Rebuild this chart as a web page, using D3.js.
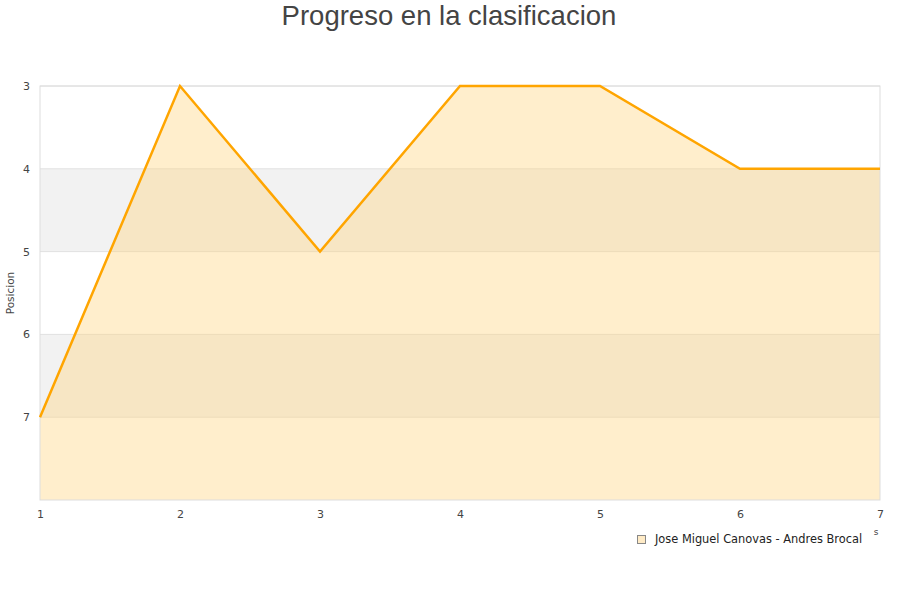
<!DOCTYPE html>
<meta charset="utf-8">
<html>
<head>
<script src="https://d3js.org/d3.v7.min.js"></script>
<style>
  body { margin: 0; background: #fff; }
  text { font-family: "DejaVu Sans", sans-serif; }
</style>
</head>
<body>
<div id="chart"></div>
<script>
  // data
  const rounds = [1, 2, 3, 4, 5, 6, 7];
  const positions = [7, 3, 5, 3, 3, 4, 4];
  const yTicks = [3, 4, 5, 6, 7];
  const seriesName = "Jose Miguel Canovas - Andres Brocal";

  var margin = {top: 86, right: 20, bottom: 100, left: 40},
      width = 900 - margin.left - margin.right,
      height = 600 - margin.top - margin.bottom;

  const svg = d3.select("#chart")
    .append("svg")
      .attr("width", 900)
      .attr("height", 600);

  svg.append("text")
    .attr("x", 449)
    .attr("y", 25)
    .attr("text-anchor", "middle")
    .style("font-family", "'Liberation Sans', Arial, sans-serif")
    .style("font-size", "27.5px")
    .style("fill", "#444")
    .text("Progreso en la clasificacion");

  const g = svg.append("g")
    .attr("transform", `translate(${margin.left},${margin.top})`);

  const x = d3.scaleLinear().domain([1, 7]).range([0, width]);
  const y = d3.scaleLinear().domain([3, 8]).range([0, height]);

  // alternating bands
  g.selectAll("rect.band")
    .data([3, 4, 5, 6, 7])
    .join("rect")
      .attr("class", "band")
      .attr("x", 0)
      .attr("y", d => y(d))
      .attr("width", width)
      .attr("height", d => y(d + 1) - y(d))
      .attr("fill", (d, i) => i % 2 ? "#f2f2f2" : "#fff");

  // grid lines
  g.selectAll("line.grid")
    .data(yTicks)
    .join("line")
      .attr("class", "grid")
      .attr("x1", 0)
      .attr("x2", width)
      .attr("y1", d => y(d))
      .attr("y2", d => y(d))
      .attr("stroke", "#e0e0e0");

  const pts = rounds.map((r, i) => ({r: r, p: positions[i]}));

  const area = d3.area()
    .x(d => x(d.r))
    .y0(y(8))
    .y1(d => y(d.p));

  g.append("path")
    .datum(pts)
    .attr("d", area)
    .attr("fill", "#ffd580")
    .attr("fill-opacity", 0.4);

  // plot border
  g.append("rect")
    .attr("width", width)
    .attr("height", height)
    .attr("fill", "none")
    .attr("stroke", "#ddd");

  g.append("path")
    .datum(pts)
    .attr("d", d3.line().x(d => x(d.r)).y(d => y(d.p)))
    .attr("fill", "none")
    .attr("stroke", "#ffa500")
    .attr("stroke-width", 2.5);

  // axes
  const xAxis = g.append("g")
    .attr("transform", `translate(0,${height})`)
    .call(d3.axisBottom(x).tickValues(rounds).tickFormat(d3.format("d")).tickSize(0).tickPadding(10));
  xAxis.select(".domain").remove();

  const yAxis = g.append("g")
    .call(d3.axisLeft(y).tickValues(yTicks).tickFormat(d3.format("d")).tickSize(0).tickPadding(10));
  yAxis.select(".domain").remove();

  g.selectAll(".tick text")
    .style("font-family", "'DejaVu Sans', sans-serif")
    .style("font-size", "11px")
    .style("fill", "#444");

  svg.append("text")
    .attr("transform", `translate(14,${margin.top + height / 2}) rotate(-90)`)
    .attr("text-anchor", "middle")
    .style("font-size", "10.5px")
    .style("fill", "#444")
    .text("Posicion");

  svg.append("text")
    .attr("x", 876)
    .attr("y", 535)
    .attr("text-anchor", "middle")
    .style("font-size", "9px")
    .style("fill", "#444")
    .text("s");

  // legend
  svg.append("rect")
    .attr("x", 637.5)
    .attr("y", 535.5)
    .attr("width", 8)
    .attr("height", 8)
    .attr("fill", "#ffebc6")
    .attr("stroke", "#888");

  svg.append("text")
    .attr("x", 655)
    .attr("y", 543)
    .style("font-size", "11.4px")
    .style("fill", "#222")
    .text(seriesName);
</script>
</body>
</html>
